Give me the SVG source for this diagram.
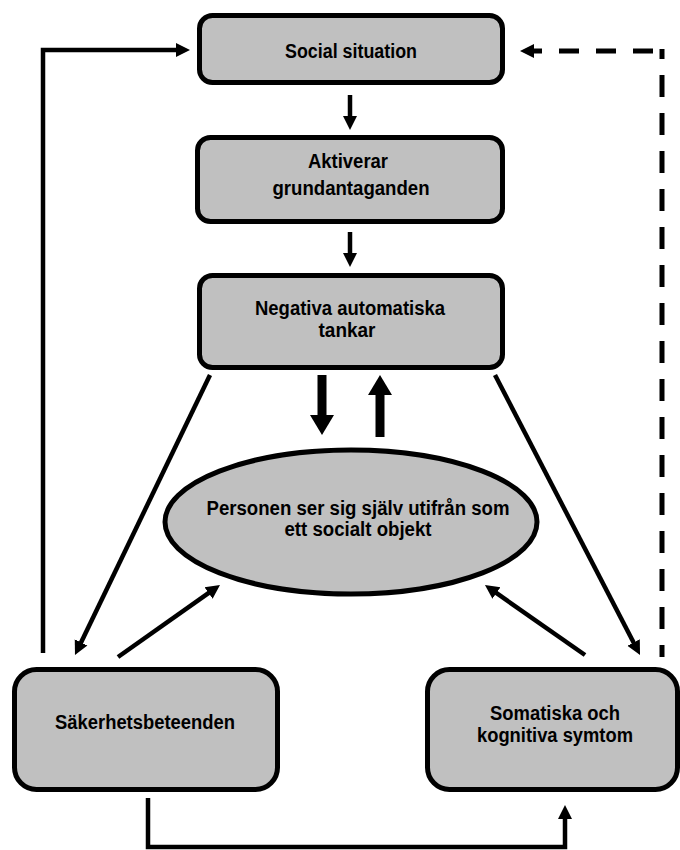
<svg xmlns="http://www.w3.org/2000/svg" width="680" height="850" viewBox="0 0 680 850">
<style>
.box{fill:#c0c0c0;stroke:#000;stroke-width:5}
.t{font-family:"Liberation Sans",Arial,sans-serif;font-weight:bold;font-size:20px;fill:#000;text-anchor:middle}
.c{fill:none;stroke:#000;stroke-width:4.5;stroke-linejoin:miter}
.big{fill:none;stroke:#000;stroke-width:9}
.dash{fill:none;stroke:#000;stroke-width:5}
</style>
<defs>
<marker id="a" markerUnits="userSpaceOnUse" markerWidth="16" markerHeight="16" refX="2" refY="7" orient="auto" viewBox="0 0 16 14">
<path d="M0,0 L14,7 L0,14 z" fill="#000"/>
</marker>
<marker id="b" markerUnits="userSpaceOnUse" markerWidth="22" markerHeight="26" refX="2" refY="12" orient="auto" viewBox="0 0 22 24">
<path d="M0,0 L20,12 L0,24 z" fill="#000"/>
</marker>
<marker id="d" markerUnits="userSpaceOnUse" markerWidth="16" markerHeight="16" refX="2" refY="7" orient="auto" viewBox="0 0 16 14">
<path d="M0,0 L14,7 L0,14 z" fill="#000"/>
</marker>
</defs>
<g id="connectors">
<path class="c" d="M43,653 V50 H178" marker-end="url(#a)"/>
<path class="c" d="M350,95 V118" marker-end="url(#a)"/>
<path class="c" d="M350,232 V255" marker-end="url(#a)"/>
<path class="big" d="M322,375 V417" marker-end="url(#b)"/>
<path class="big" d="M380,437 V393" marker-end="url(#b)"/>
<path class="c" d="M210,375 L80.2,644.2" marker-end="url(#a)"/>
<path class="c" d="M495,375 L634.5,644.3" marker-end="url(#a)"/>
<path class="c" d="M118,657 L210.2,591.9" marker-end="url(#a)"/>
<path class="c" d="M585,655 L494.8,591.9" marker-end="url(#a)"/>
<path class="c" d="M148,798 V847 H565 V817" marker-end="url(#a)"/>
<path class="dash" d="M653,51 H532" stroke-dasharray="20 17" marker-end="url(#d)"/>
<path class="dash" d="M662,49 V657" stroke-dasharray="22 16" stroke-dashoffset="12"/>
</g>
<g id="social-situation">
<rect class="box" x="199.5" y="15.5" width="303" height="67" rx="13"/>
<text class="t" x="351" y="58" textLength="132" lengthAdjust="spacingAndGlyphs">Social situation</text>
</g>
<g id="aktiverar">
<rect class="box" x="197.5" y="137.5" width="305" height="84" rx="13"/>
<text class="t" x="348" y="168" textLength="80" lengthAdjust="spacingAndGlyphs">Aktiverar</text>
<text class="t" x="351" y="195" textLength="157" lengthAdjust="spacingAndGlyphs">grundantaganden</text>
</g>
<g id="negativa">
<rect class="box" x="199.5" y="275.5" width="303" height="92" rx="13"/>
<text class="t" x="350" y="315" textLength="190" lengthAdjust="spacingAndGlyphs">Negativa automatiska</text>
<text class="t" x="347" y="337" textLength="57" lengthAdjust="spacingAndGlyphs">tankar</text>
</g>
<g id="personen">
<ellipse class="box" cx="351" cy="522" rx="186" ry="72"/>
<text class="t" x="358" y="515" textLength="303" lengthAdjust="spacingAndGlyphs">Personen ser sig själv utifrån som</text>
<text class="t" x="358" y="536" textLength="147" lengthAdjust="spacingAndGlyphs">ett socialt objekt</text>
</g>
<g id="sakerhet">
<rect class="box" x="14.5" y="669.5" width="263" height="120" rx="22"/>
<text class="t" x="145" y="729" textLength="180" lengthAdjust="spacingAndGlyphs">Säkerhetsbeteenden</text>
</g>
<g id="somatiska">
<rect class="box" x="427.5" y="669.5" width="250" height="120" rx="22"/>
<text class="t" x="555" y="720" textLength="130" lengthAdjust="spacingAndGlyphs">Somatiska och</text>
<text class="t" x="555" y="742" textLength="156" lengthAdjust="spacingAndGlyphs">kognitiva symtom</text>
</g>
</svg>
